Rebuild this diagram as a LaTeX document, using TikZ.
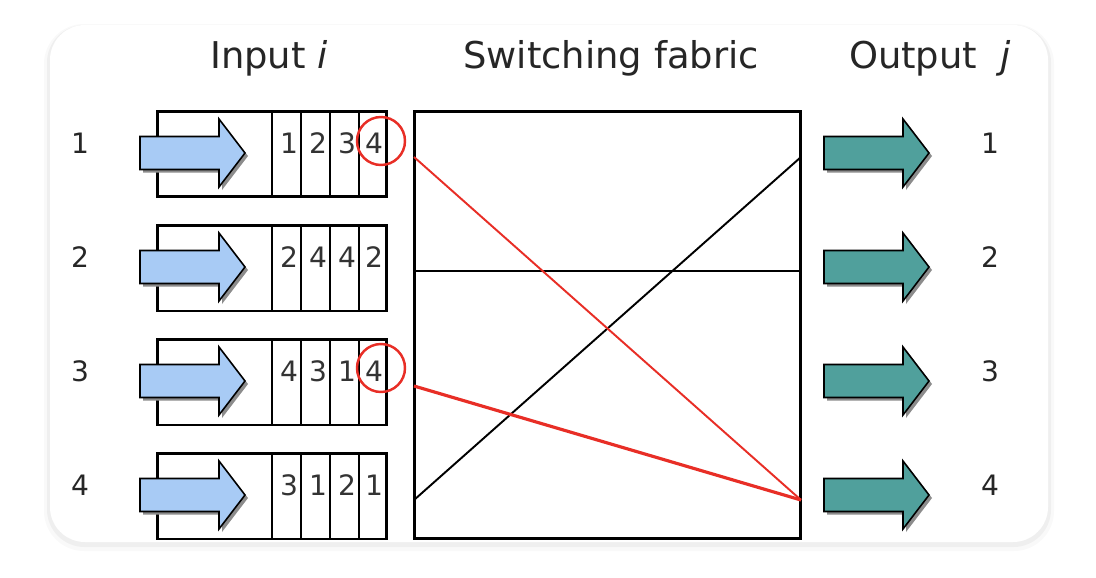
\documentclass[tikz,border=0pt]{standalone}
\usepackage{fontspec}
\setmainfont{DejaVu Sans}
\usetikzlibrary{positioning, shadows}

\definecolor{inblue}{RGB}{168,203,245}
\definecolor{outteal}{RGB}{80,160,156}
\definecolor{markred}{RGB}{232,46,38}

\tikzset{
    heading/.style  = {font=\fontsize{21}{25}\selectfont, text=black!85, inner sep=0pt, anchor=base},
    portnum/.style  = {font=\fontsize{16}{19}\selectfont, text=black!85, inner sep=0pt, anchor=base},
    cellnum/.style  = {font=\fontsize{16}{19}\selectfont, text=black!80, inner sep=0pt, anchor=base},
    queuebox/.style = {draw, line width=1.7pt, minimum width=4.6cm, minimum height=1.72cm, inner sep=0pt},
    ring/.style     = {circle, draw=markred, line width=1.4pt, minimum size=0.96cm, inner sep=0pt},
    flowarrow/.pic  = {
        \draw[line width=0.9pt, fill=#1,
              drop shadow={shadow xshift=0.06cm, shadow yshift=-0.06cm, fill=black!45, opacity=1}]
            (-105,-16.5) -- (-26,-16.5) -- (-26,-34) -- (0,0) -- (-26,34) -- (-26,16.5) -- (-105,16.5) -- cycle;
    }
}

\begin{document}
\begin{tikzpicture}[x=0.02cm, y=-0.02cm]
            \useasboundingbox (0,0) rectangle (1096,578);
            % card
            \fill[black, opacity=0.025, rounded corners=0.8cm] (44,24) rectangle (1054,551);
            \fill[black, opacity=0.04, rounded corners=0.75cm] (47,25) rectangle (1051,547);
            \fill[white, rounded corners=0.7cm] (50,25) rectangle (1048,542);

            \node[heading] (title-in)  at (269,68) {Input \textit{i}};
            \node[heading] (title-sw)  at (611,68) {Switching fabric};
            \node[heading] (title-out) at (930,68) {Output\ \ \textit{j}};

            % queues and ports
            \foreach \r/\a/\b/\c/\d in {1/1/2/3/4, 2/2/4/4/2, 3/4/3/1/4, 4/3/1/2/1} {
                \pgfmathsetmacro\yc{154+114*(\r-1)}
                \node[queuebox] (q\r) at (272,\yc) {};
                \foreach \x in {272,301,330,359}
                    \draw[line width=1.6pt] (\x,\yc-43) -- (\x,\yc+43);
                \node[cellnum] (c\r-1) at (289,\yc-1) {\a};
                \node[cellnum] (c\r-2) at (318,\yc-1) {\b};
                \node[cellnum] (c\r-3) at (347,\yc-1) {\c};
                \node[cellnum] (c\r-4) at (374,\yc-1) {\d};
                \pic at (245,\yc-1) {flowarrow=inblue};
                \pic at (929,\yc-1) {flowarrow=outteal};
                \node[portnum] (in-\r)  at (80,\yc-1)  {\r};
                \node[portnum] (out-\r) at (990,\yc-1) {\r};
            }
            \node[ring] (ring1) at (381,141) {};
            \node[ring] (ring3) at (381,368) {};

            % fabric
            \node[draw, line width=1.7pt, minimum width=7.74cm, minimum height=8.56cm, inner sep=0pt]
                (fabric) at (607.5,325) {};
            \coordinate (mid-l) at (414,271);
            \coordinate (mid-r) at (801,271);
            \coordinate (sw-in1) at (414,157);
            \coordinate (sw-in3) at (414,386);
            \coordinate (sw-in4) at (414,500);
            \coordinate (sw-out1) at (801,157);
            \coordinate (sw-out4) at (801,500);
            \draw[line width=1.4pt] (mid-l) -- (mid-r);
            \draw[line width=1.1pt] (sw-in4) -- (sw-out1);
            \draw[markred, line width=1.1pt] (sw-in1) -- (sw-out4);
            \draw[markred, line width=1.8pt] (sw-in3) -- (sw-out4);
        \end{tikzpicture}
\end{document}
